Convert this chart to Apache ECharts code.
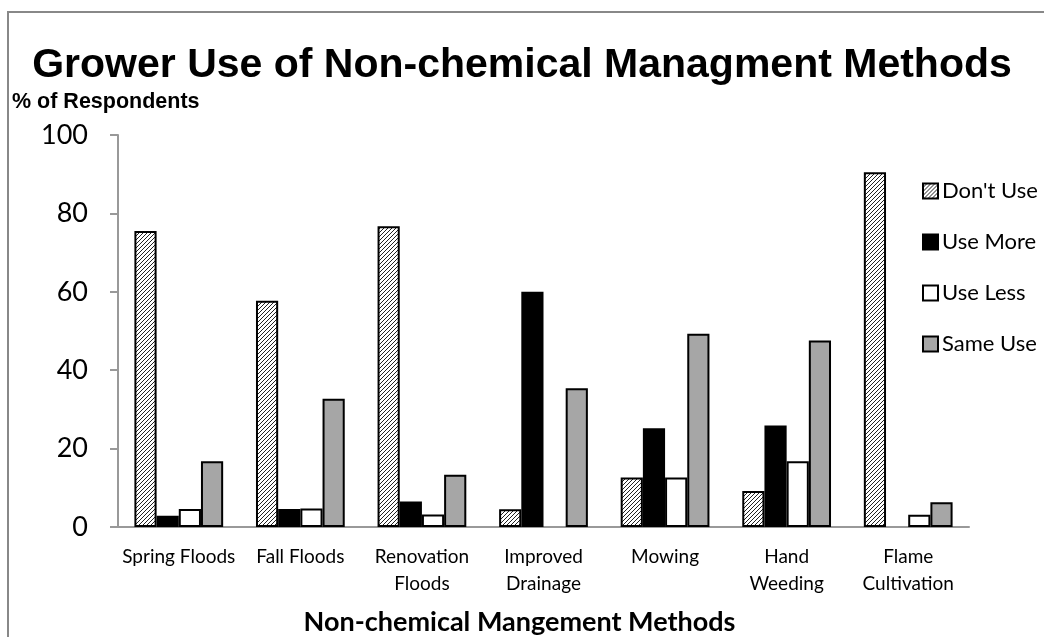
<!DOCTYPE html>
<html>
<head>
<meta charset="utf-8">
<script src="https://cdn.jsdelivr.net/npm/echarts@6/dist/echarts.min.js"></script>
<style>
html, body { margin: 0; padding: 0; background: #fff; }
#main { width: 1044px; height: 637px; }
</style>
</head>
<body>
<div id="main"></div>
<script>
// categories and series values (% of respondents)
var categories = ['Spring Floods', 'Fall Floods', 'Renovation\nFloods', 'Improved\nDrainage', 'Mowing', 'Hand\nWeeding', 'Flame\nCultivation'];
var dontUse = [75.5, 57.7, 76.7, 4.5, 12.6, 9.2, 90.5];
var useMore = [2.9, 4.6, 6.5, 60, 25.2, 25.9, null];
var useLess = [4.6, 4.7, 3.2, null, 12.6, 16.8, 3.1];
var sameUse = [16.8, 32.7, 13.3, 35.4, 49.3, 47.6, 6.3];
var yTicks = [0, 20, 40, 60, 80, 100];

// hatch pattern for "Don't Use"
function makeHatch() {
	var c = document.createElement('canvas');
	c.width = 4;
	c.height = 4;
	var ctx = c.getContext('2d');
	ctx.fillStyle = '#fff';
	ctx.fillRect(0, 0, 4, 4);
	ctx.strokeStyle = '#222';
	ctx.lineWidth = 1;
	ctx.beginPath();
	ctx.moveTo(-1, 5); ctx.lineTo(5, -1);
	ctx.moveTo(-1, 1); ctx.lineTo(1, -1);
	ctx.moveTo(3, 5); ctx.lineTo(5, 3);
	ctx.stroke();
	return c;
}
var hatch = { image: makeHatch(), repeat: 'repeat' };

var font = 'Lato, "Noto Sans", sans-serif';
var myChart = echarts.init(document.getElementById('main'));

function barSeries(name, data, color) {
	return {
		name: name,
		type: 'bar',
		data: data,
		barGap: '0%',
		barCategoryGap: '27%',
		itemStyle: { color: color, borderColor: '#000', borderWidth: 2 }
	};
}

option = {
	animation: false,
	backgroundColor: '#fff',
	graphic: [{
		type: 'rect',
		shape: { x: 8, y: 12, width: 1100, height: 700 },
		style: { fill: null, stroke: '#888', lineWidth: 2 },
		silent: true
	}, {
		type: 'text',
		left: 12,
		top: 91,
		style: { text: '% of Respondents', font: 'bold 21.5px "Liberation Sans", Arial, sans-serif', fill: '#000' }
	}],
	title: {
		text: 'Grower Use of Non-chemical Managment Methods',
		left: 'center',
		top: 40,
		padding: [5, 0, 5, 20],
		textStyle: { fontFamily: '"Liberation Sans", Arial, sans-serif', fontWeight: 'bold', fontSize: 41, color: '#000' }
	},
	legend: {
		orient: 'vertical',
		left: 917,
		top: 175,
		itemWidth: 15,
		itemHeight: 15,
		itemGap: 29,
		icon: 'rect',
		textStyle: { fontFamily: font, fontSize: 22, color: '#000', padding: [0, 0, 0, -1] },
		data: ["Don't Use", 'Use More', 'Use Less', 'Same Use']
	},
	grid: { left: 118, right: 75, top: 135, bottom: 110, outerBoundsMode: 'none' },
	xAxis: {
		type: 'category',
		data: categories,
		name: 'Non-chemical Mangement Methods',
		nameLocation: 'middle',
		nameGap: 82,
		nameTextStyle: { fontFamily: font, fontWeight: 'bold', fontSize: 27, color: '#000', padding: [0, 48, 0, 0] },
		axisLine: { lineStyle: { color: '#999', width: 2 } },
		axisTick: { show: false },
		axisLabel: { fontFamily: font, fontSize: 19, color: '#000', margin: 16, lineHeight: 27, interval: 0 }
	},
	yAxis: {
		type: 'value',
		min: yTicks[0],
		max: yTicks[yTicks.length - 1],
		interval: 20,
		splitLine: { show: false },
		axisLine: { show: true, lineStyle: { color: '#999', width: 2 } },
		axisTick: { show: true, length: 8, lineStyle: { color: '#999', width: 2 } },
		axisLabel: { fontFamily: font, fontSize: 27, color: '#000', margin: 30 }
	},
	series: [
		barSeries("Don't Use", dontUse, hatch),
		barSeries('Use More', useMore, '#000'),
		barSeries('Use Less', useLess, '#fff'),
		barSeries('Same Use', sameUse, '#a6a6a6')
	]
};

myChart.setOption(option);
</script>
</body>
</html>
